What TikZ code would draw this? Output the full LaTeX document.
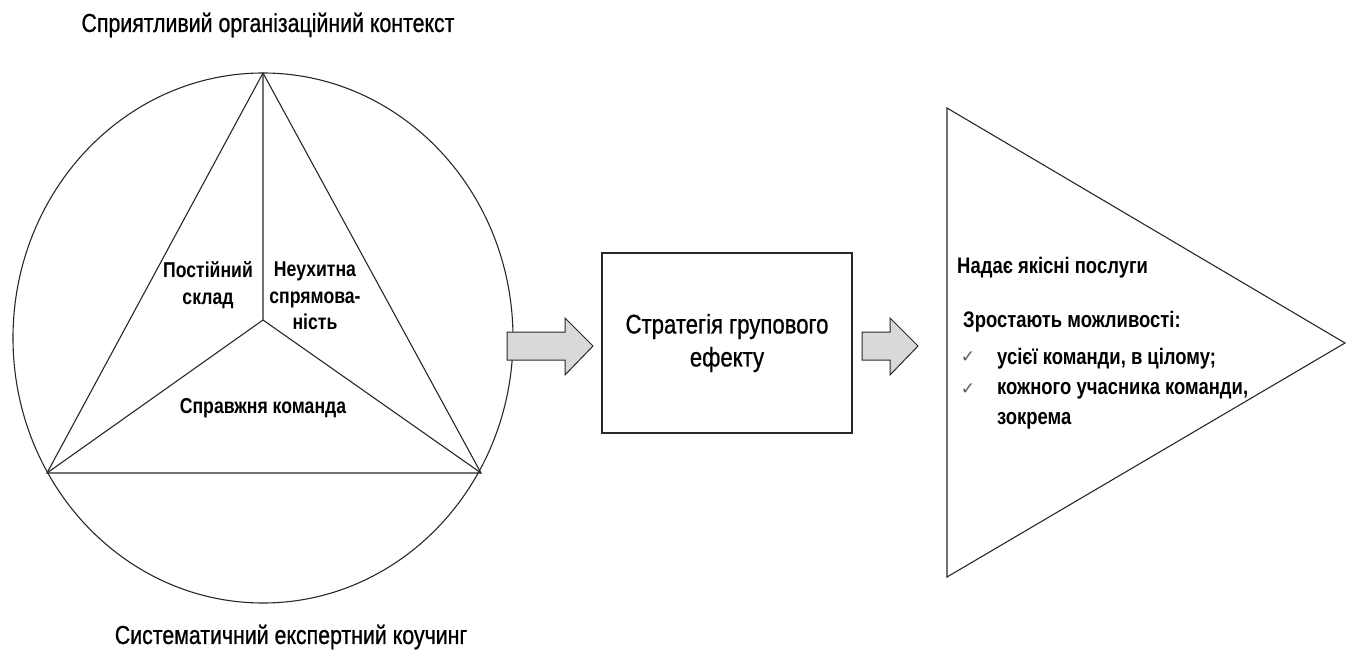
\documentclass[tikz,border=0pt]{standalone}
\usepackage{fontspec}
\setmainfont{Liberation Sans}[FakeStretch=0.82]
\newfontfamily\medfont{Liberation Sans}[FakeStretch=0.82,FakeBold=0.8]
\newfontfamily\symfont{DejaVu Sans}
\definecolor{arrowgray}{RGB}{217,217,217}
\definecolor{linegray}{RGB}{40,40,40}
\begin{document}
\begin{tikzpicture}[x=1pt,y=-1pt,
  shape line/.style={draw=linegray,line width=1.1pt},
  lbl/.style={inner sep=0pt,align=center,font=\fontsize{21.5}{26.5}\selectfont\bfseries},
  caption/.style={inner sep=0pt,font=\medfont\fontsize{26}{30}\selectfont},
  item/.style={inner sep=0pt,anchor=west,font=\fontsize{22.5}{26}\selectfont\bfseries},
  check/.style={inner sep=0pt,text=black!65,font=\symfont\fontsize{17}{19}\selectfont},
  blockarrow/.style={draw=linegray,line width=1pt,fill=arrowgray}]
\useasboundingbox (0,0) rectangle (1349,650);
% circle and triangle
\coordinate (c) at (263,338);
\draw[shape line] (c) ellipse [x radius=250, y radius=265];
\coordinate (A) at (263,73);
\coordinate (B) at (47,473);
\coordinate (C) at (481,473);
\coordinate (O) at (263,320);
\draw[shape line] (A) -- (B) -- (C) -- cycle;
\draw[shape line] (A) -- (O) (B) -- (O) (C) -- (O);
\node[caption] (top) at (268,25) {Сприятливий організаційний контекст};
\node[caption] (bottom) at (291,637) {Систематичний експертний коучинг};
\node[lbl] (l1) at (208,285) {Постійний\\склад};
\node[lbl] (l2) at (315,296) {Неухитна\\спрямова-\\ність};
\node[lbl] (l3) at (263,408) {Справжня команда};
% box
\node[draw=linegray,line width=1.1pt,minimum width=250pt,minimum height=180pt,inner sep=0pt,
      align=center,font=\medfont\fontsize{27}{33}\selectfont] (box) at (727,343) {Стратегія групового\\ефекту};
% block arrows
\draw[blockarrow] (507,332) -- (565,332) -- (565,318) -- (593,346) -- (565,375) -- (565,360) -- (507,360) -- cycle;
\draw[blockarrow] (862,332) -- (890,332) -- (890,318) -- (918,346) -- (890,375) -- (890,360) -- (862,360) -- cycle;
% triangle on right
\coordinate (T1) at (947,108);
\coordinate (T2) at (1345,343);
\coordinate (T3) at (947,577);
\draw[shape line] (T1) -- (T2) -- (T3) -- cycle;
\node[item] (r1) at (957,268) {Надає якісні послуги};
\node[item] (r2) at (963,322) {Зростають можливості:};
\node[check] (ck1) at (968,357) {✓};
\node[check] (ck2) at (968,389) {✓};
\node[item] (r3) at (997,359) {усієї команди, в цілому;};
\node[item] (r4) at (997,391) {кожного учасника команди,};
\node[item] (r5) at (997,421) {зокрема};
\end{tikzpicture}
\end{document}
